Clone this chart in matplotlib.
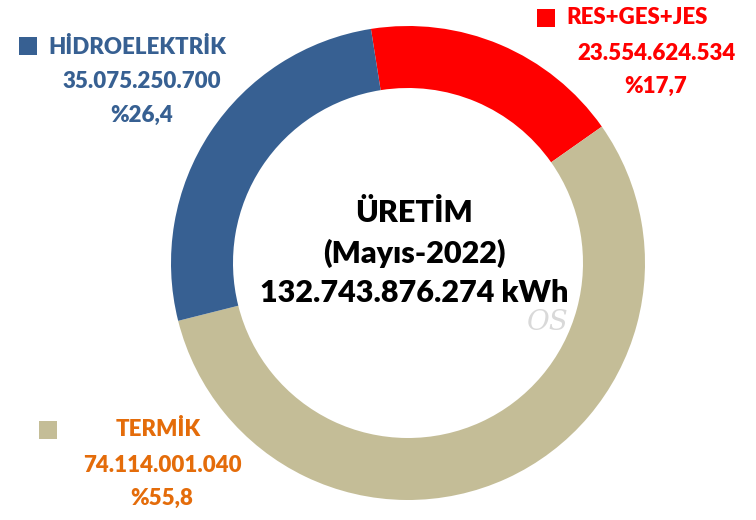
import matplotlib.pyplot as plt

plt.rcParams["font.family"] = ["Lato", "DejaVu Sans"]

# data
sources = ["RES+GES+JES", "TERMİK", "HİDROELEKTRİK"]
values = [23554624534, 74114001040, 35075250700]
value_labels = ["23.554.624.534", "74.114.001.040", "35.075.250.700"]
pct_labels = ["%17,7", "%55,8", "%26,4"]
slice_colors = ["#FF0000", "#C4BD97", "#376092"]
text_colors = ["#FF0000", "#E46C0A", "#376092"]

center_lines = ["ÜRETİM", "(Mayıs-2022)", "132.743.876.274 kWh"]

W, H = 756, 520
fig = plt.figure(figsize=(W / 100, H / 100), dpi=100)
ax = fig.add_axes([0, 0, 1, 1])

ax.pie(
    values,
    colors=slice_colors,
    startangle=99,
    counterclock=False,
    center=(408, H - 263),
    radius=237,
    wedgeprops={"width": 62, "linewidth": 0},
    frame=True,
)
ax.set_xlim(0, W)
ax.set_ylim(0, H)
ax.set_aspect("equal")
ax.axis("off")

# label blocks: (square x, square y, name x, value x, top y)
label_pos = [
    (546, 18, 566, 656, 18),
    (48, 430, 116, 162, 430),
    (28, 46, 48, 142, 47),
]
for i, (sx, sy, nx, vx, ty) in enumerate(label_pos):
    ax.scatter([sx], [H - sy], marker="s", s=150, color=slice_colors[i], linewidths=0)
    ax.text(nx, H - ty, sources[i], color=text_colors[i], fontsize=16,
            fontweight="heavy", ha="left", va="center")
    ax.text(vx, H - ty - 35, value_labels[i], color=text_colors[i], fontsize=16,
            fontweight="heavy", ha="center", va="center")
    ax.text(vx, H - ty - 68, pct_labels[i], color=text_colors[i], fontsize=16,
            fontweight="heavy", ha="center", va="center")

for k, line in enumerate(center_lines):
    ax.text(414, H - 213 - k * 40, line, color="black", fontsize=22,
            fontweight="heavy", ha="center", va="center")

ax.text(548, H - 322, "OS", color="#d9d9d9", fontsize=20, style="italic",
        family="DejaVu Serif", ha="center", va="center")

fig.savefig("out.png", dpi=100)
